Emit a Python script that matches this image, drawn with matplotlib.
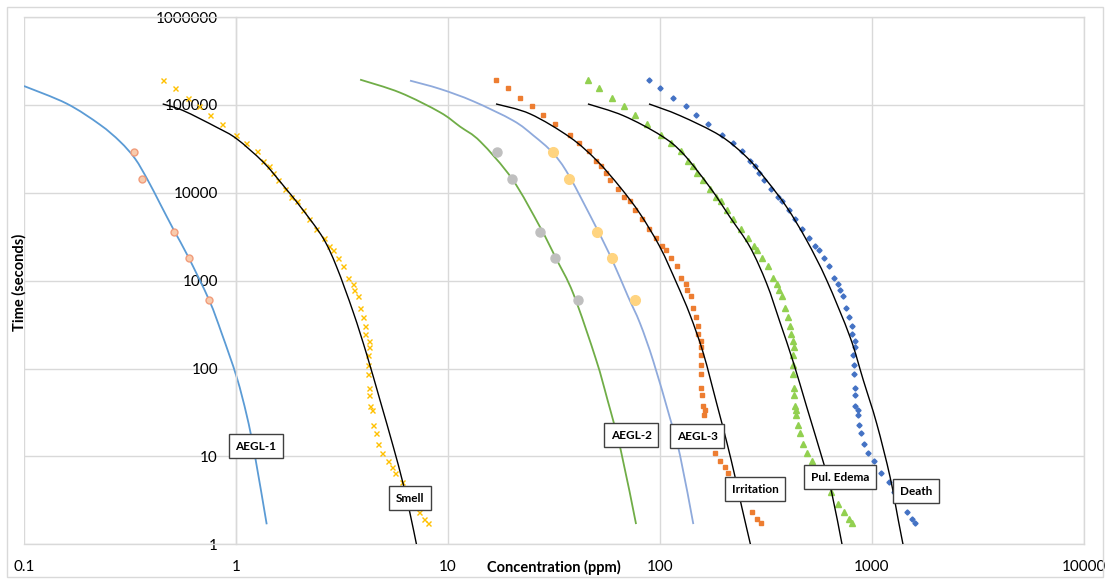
import numpy as np
import matplotlib
matplotlib.use("Agg")
import matplotlib.pyplot as plt
from matplotlib.patches import Rectangle, PathPatch
from matplotlib.path import Path
from matplotlib.ticker import FixedLocator, FixedFormatter, NullLocator

plt.rcParams['font.family'] = ['Lato', 'DejaVu Sans']

nan = np.nan

# === data ===
# times (s) shared by the four measured series
time_s = [190000, 155000, 120000, 96000, 76000, 60000, 46000, 37000, 29500, 22700,
          20100, 17000, 13800, 10900, 8900, 7960, 6340, 5050, 3830, 3070,
          2500, 2240, 1800, 1450, 1070, 925, 776, 676, 485, 390,
          308, 245, 207, 178, 142, 109, 86, 60.5, 50, 37.4,
          33.6, 29.4, 22.8, 18.4, 13.7, 10.8, 8.8, 7.5, 6.4, 5.1,
          3.9, 2.87, 2.34, 1.95, 1.73]

smell_ppm = [0.451, 0.514, 0.592, 0.671, 0.751, 0.862, 1.003, 1.118, 1.252, 1.345,
             1.426, 1.490, 1.573, 1.703, 1.823, 1.933, 2.063, 2.21, 2.38, 2.59,
             2.75, 2.86, 3.02, 3.21, 3.39, 3.55, 3.60, 3.76, 3.85, 3.97,
             4.07, 4.07, 4.23, 4.24, 4.20, 4.21, 4.21, 4.24, 4.24, 4.29,
             4.37, nan, 4.44, 4.56, 4.67, 4.87, 5.19, 5.44, 5.64, 6.05,
             nan, nan, 7.30, 7.70, 8.02]

irritation_ppm = [16.79, 19.12, 21.93, 24.98, 28.06, 32.07, 37.5, 41.5, 46.1, 49.9,
                  52.9, 55.4, 58.3, 63.2, 67.6, 71.9, 76.2, 82.0, 88.7, 95.4,
                  101.9, 106.4, 112.3, 119.9, 125.6, 132.2, 134.1, 140.0, 143.6, 147.9,
                  151.1, 151.6, 156.1, 155.6, 155.6, 155.6, 156.1, 156.1, 157.8, 159.5,
                  163.1, 161.3, nan, nan, nan, 181.7, 192.4, 202.6, 209.3, nan,
                  nan, nan, 271.6, 285.8, 298.5]

edema_ppm = [45.7, 51.7, 59.4, 67.4, 76.2, 86.6, 101.1, 112.3, 125.6, 135.1,
             142.6, 150.0, 159.5, 172.1, 183.7, 194.6, 207.0, 221.7, 240.3, 260.1,
             276.7, 286.8, 302.8, 323.2, 340.1, 356.4, 364.2, 377.5, 388.7, 400.3,
             410.5, 413.6, 422.7, 428.7, 422.7, 422.7, 422.7, 427.3, 430.1, 431.9,
             439.5, 438.0, 449.1, 458.9, 471.0, 493.5, 522.8, nan, nan, nan,
             642.7, 693.4, 737.9, 778.9, 807.5]

death_ppm = [88.7, 100.3, 115.2, 132.2, 147.9, 168.4, 196.1, 219.8, 243.7, 265.2,
             279.7, 291.5, 308.4, 334.6, 359.4, 377.5, 404.7, 433.4, 469.1, 505.6,
             538.4, 561.2, 593.8, 628.9, 659.6, 691.2, 704.1, 732.2, 751.5, 781.4,
             802.0, 802.0, 828.6, 828.6, 816.1, 819.7, 819.7, 828.6, 834.0, 834.0,
             859.0, 856.1, 868.4, 890.3, 913.8, 957.4, 1018.6, nan, 1103, 1203,
             1274, nan, 1467, 1549, 1602]

# AEGL points (10 min, 30 min, 1 h, 4 h, 8 h)
aegl_time_s = [28800, 14400, 3600, 1800, 600]
aegl1_ppm = [0.33, 0.36, 0.51, 0.60, 0.75]
aegl2_ppm = [17.1, 20.1, 27.1, 32.1, 41.0]
aegl3_ppm = [31.3, 37.2, 50.3, 59.6, 76.5]

# fitted curves
aegl1_fit_ppm = [0.1, 0.159, 0.228, 0.2837, 0.334, 0.3845, 0.438, 0.510, 0.594, 0.748,
                 0.856, 1.008, 1.123, 1.22, 1.396]
aegl1_fit_s = [164000, 103500, 59700, 38300, 24500, 13800, 7550, 3730, 1890, 597,
               252, 79.6, 29.5, 11.2, 1.69]

aegl2_fit_ppm = [3.85, 5.94, 9.17, 11.39, 14.2, 20.1, 27.2, 32.3, 39.0, 49.9, 56.6, 65.3, 77.1]
aegl2_fit_s = [194000, 138000, 82400, 56700, 38300, 14300, 4060, 1800, 711, 127, 43.6, 11.8, 1.70]

aegl3_fit_ppm = [6.62, 9.17, 13.16, 20.3, 25.3, 31.2, 37.2, 50.3, 59.6, 70.6, 80.5, 93.0, 111.5, 124.3, 143.6]
aegl3_fit_s = [189000, 152000, 110000, 66300, 44800, 28500, 15700, 3930, 1700, 663, 327, 121, 27.2, 10.3, 1.70]

smell_fit_ppm = [0.451, 0.564, 0.811, 1.008, 1.345, 1.672, 2.077, 2.58, 2.985, 3.575, 4.135, 4.78, 5.52, 6.11, 6.62, 7.10]
smell_fit_s = [102600, 86100, 55600, 41100, 22300, 12100, 6300, 3030, 1430, 436, 145, 43.6, 12.9, 5.15, 2.25, 1.0]

irritation_fit_ppm = [16.84, 24.4, 37.6, 50.3, 64.8, 80.5, 100, 119.9, 138.5, 160.1, 185.1, 207, 225.9, 242.9, 267]
irritation_fit_s = [102600, 79000, 42800, 23300, 11600, 5770, 2410, 931, 409, 149, 40, 14.2, 5.87, 2.67, 1.0]

edema_fit_ppm = [45.7, 67.1, 101.1, 128.8, 172.1, 213.9, 265.8, 318.6, 368.1, 425.4, 492, 589.4, 644.6, 722]
edema_fit_s = [102600, 75500, 44800, 27700, 11500, 5280, 2410, 925, 336, 118, 36.6, 8.6, 3.93, 1.0]

death_fit_ppm = [88.7, 124.3, 191.9, 256.5, 318.6, 396, 492, 611.5, 787.4, 910, 1052, 1216, 1330, 1400]
death_fit_s = [102600, 75500, 44800, 25400, 13800, 6860, 2870, 1010, 229, 73.6, 23.7, 5.87, 1.89, 1.0]

x_ticks = [0.1, 1, 10, 100, 1000, 10000]
x_tick_labels = ["0.1", "1", "10", "100", "1000", "10000"]
y_ticks = [1, 10, 100, 1000, 10000, 100000, 1000000]
y_tick_labels = ["1", "10", "100", "1000", "10000", "100000", "1000000"]


def smooth_path(xs, ys):
    # smoothed line through the points (Catmull-Rom style Bezier, like Excel's smoothed lines)
    p = np.column_stack([np.log10(xs), np.log10(ys)])
    ext = np.vstack([p[0], p, p[-1]])
    verts = [p[0]]
    codes = [Path.MOVETO]
    for i in range(len(p) - 1):
        p0, p1, p2, p3 = ext[i], ext[i + 1], ext[i + 2], ext[i + 3]
        verts += [p1 + (p2 - p0) / 6, p2 - (p3 - p1) / 6, p2]
        codes += [Path.CURVE4] * 3
    return Path(10 ** np.array(verts), codes)


def add_curve(ax, xs, ys, color, lw, z):
    ax.add_patch(PathPatch(smooth_path(xs, ys), fill=False, ec=color, lw=lw, zorder=z))


# === figure ===
fig = plt.figure(figsize=(11.1, 5.79), dpi=100)
ax = fig.add_axes([0.0216, 0.0599, 0.9550, 0.9107])
ax.set_xscale('log')
ax.set_yscale('log')
ax.set_xlim(0.1, 10000)
ax.set_ylim(1, 1000000)
ax.set_autoscale_on(False)

grid_c = '#D9D9D9'
ax.xaxis.set_major_locator(FixedLocator(x_ticks))
ax.xaxis.set_major_formatter(FixedFormatter(x_tick_labels))
ax.yaxis.set_major_locator(FixedLocator(y_ticks))
ax.yaxis.set_major_formatter(FixedFormatter(y_tick_labels))
ax.xaxis.set_minor_locator(NullLocator())
ax.yaxis.set_minor_locator(NullLocator())
ax.grid(True, color=grid_c, linewidth=1.0, zorder=0)
ax.set_axisbelow(True)
for s in ax.spines.values():
    s.set_color(grid_c)
    s.set_linewidth(1.0)
ax.spines['left'].set_position(('data', 1))
ax.tick_params(axis='both', length=0, labelsize=11, colors='#000000')
ax.tick_params(axis='y', pad=13)
ax.tick_params(axis='x', pad=11)

# AEGL curves and points
add_curve(ax, aegl1_fit_ppm, aegl1_fit_s, '#5B9BD5', 1.3, 2)
add_curve(ax, aegl2_fit_ppm, aegl2_fit_s, '#70AD47', 1.3, 2)
add_curve(ax, aegl3_fit_ppm, aegl3_fit_s, '#8FAADC', 1.3, 2)
ax.plot(aegl1_ppm, aegl_time_s, ls='none', marker='o', ms=5, mfc='#F8CBAD', mec='#F19C7B', mew=1, zorder=3)
ax.plot(aegl2_ppm, aegl_time_s, ls='none', marker='o', ms=6.5, mfc='#BFBFBF', mec='#BFBFBF', zorder=3)
ax.plot(aegl3_ppm, aegl_time_s, ls='none', marker='o', ms=7, mfc='#FFD480', mec='#FFD480', zorder=3)

# measured series
ax.plot(smell_ppm, time_s, ls='none', marker='x', ms=3.6, mew=1.0, color='#FFC000', zorder=3)
ax.plot(irritation_ppm, time_s, ls='none', marker='s', ms=3.3, color='#ED7D31', zorder=3)
ax.plot(edema_ppm, time_s, ls='none', marker='^', ms=3.8, color='#92D050', zorder=3)
ax.plot(death_ppm, time_s, ls='none', marker='D', ms=2.6, color='#4472C4', zorder=3)

# fitted black curves
for c, t in [(smell_fit_ppm, smell_fit_s), (irritation_fit_ppm, irritation_fit_s),
             (edema_fit_ppm, edema_fit_s), (death_fit_ppm, death_fit_s)]:
    add_curve(ax, c, t, 'black', 1.0, 4)

# curve labels
labels = [("AEGL-1", 1.24, 13.1), ("Smell", 6.62, 3.36), ("AEGL-2", 73, 17.5),
          ("AEGL-3", 149.5, 17.0), ("Irritation", 281, 4.25), ("Pul. Edema", 706, 5.8),
          ("Death", 1614, 4.03)]
for txt, lx, ly in labels:
    ax.text(lx, ly, txt, fontsize=8.5, fontweight='bold', ha='center', va='center', zorder=6,
            bbox=dict(boxstyle='square,pad=0.55', fc='white', ec='#404040', lw=1.0))

ax.set_xlabel("Concentration (ppm)", fontsize=10.5, fontweight='bold', va='center')
ax.xaxis.set_label_coords(0.5, -0.043)
ax.set_ylabel("Time (seconds)", fontsize=10.5, fontweight='bold', va='center')
ax.yaxis.set_label_coords(-0.004, 0.497)

# chart area border
fig.add_artist(Rectangle((7 / 1110, 2 / 579), 1096 / 1110, 570 / 579, transform=fig.transFigure,
                         fill=False, ec=grid_c, lw=1.0))

fig.savefig("out.png", dpi=100)
